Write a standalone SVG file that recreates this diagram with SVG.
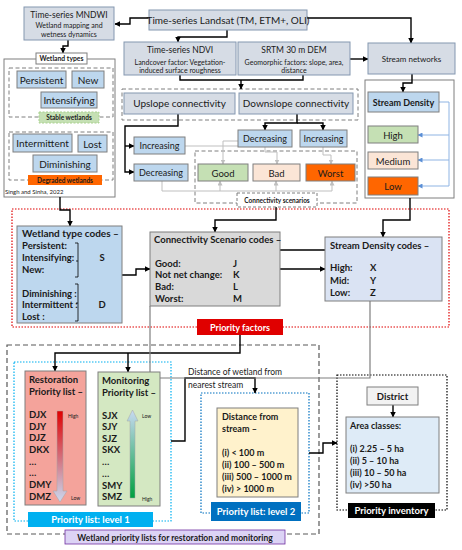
<svg xmlns="http://www.w3.org/2000/svg" width="462" height="550" viewBox="0 0 462 550">
<defs>
<style>
text{font-family:Lato,"Liberation Sans",sans-serif;fill:#1a1a1a}
.bd{font-weight:bold}
.m{text-anchor:middle}
.w{fill:#fff}
.g{fill:#d6dce5;stroke:#8497b0;stroke-width:1}
.lb{fill:#bdd7ee;stroke:#7f7f7f;stroke-width:1}
.bx{stroke:#7f7f7f;stroke-width:1}
.dash{fill:none;stroke:#7f7f7f;stroke-width:1;stroke-dasharray:4 2.5}
.c{fill:none;stroke:#000;stroke-width:1.4;marker-end:url(#ah)}
.cn{fill:none;stroke:#000;stroke-width:1.4}
.gr{fill:none;stroke:#bfbfbf;stroke-width:1}
.gra{fill:none;stroke:#bfbfbf;stroke-width:1;marker-end:url(#ahg)}
.bl{fill:none;stroke:#8fb4e3;stroke-width:1;marker-end:url(#ahb)}
.dg{fill:none;stroke:#7f7f7f;stroke-width:1.2}
</style>
<marker id="ah" viewBox="0 0 10 10" refX="9" refY="5" markerWidth="4" markerHeight="4" orient="auto"><path d="M0,0L10,5L0,10z" fill="#000"/></marker>
<marker id="ahg" viewBox="0 0 10 10" refX="9" refY="5" markerWidth="5" markerHeight="5" orient="auto"><path d="M0,0L10,5L0,10z" fill="#bfbfbf"/></marker>
<marker id="ahb" viewBox="0 0 10 10" refX="9" refY="5" markerWidth="5" markerHeight="5" orient="auto"><path d="M0,0L10,5L0,10z" fill="#5b8fd6"/></marker>
<linearGradient id="gRed" x1="0" y1="0" x2="0" y2="1"><stop offset="0" stop-color="#e00000"/><stop offset="1" stop-color="#c9daf2"/></linearGradient>
<linearGradient id="gGrn" x1="0" y1="0" x2="0" y2="1"><stop offset="0" stop-color="#c9daf2"/><stop offset="1" stop-color="#00a040"/></linearGradient>
</defs>

<!-- containers -->
<g id="containers">
<rect x="4" y="59" width="111" height="138" fill="#fff" stroke="#7f7f7f"/>
<rect x="9" y="68" width="104" height="49" class="dash"/>
<rect x="9" y="132" width="104" height="48" class="dash"/>
<rect x="122" y="89" width="236" height="31" class="dash"/>
<rect x="195" y="151" width="162" height="52" class="dash"/>
<rect x="365" y="80" width="89" height="118" fill="#fff" stroke="#7f7f7f"/>
<rect x="12" y="209" width="437" height="118" fill="none" stroke="#e00000" stroke-width="1.2" stroke-dasharray="1.5 1.5"/>
<rect x="7" y="345" width="312" height="189" fill="none" stroke="#595959" stroke-width="1.2" stroke-dasharray="5 3"/>
<rect x="14" y="362" width="157" height="159" fill="none" stroke="#00b0f0" stroke-width="1.2" stroke-dasharray="1.5 1.5"/>
<rect x="201" y="393" width="108" height="120" fill="none" stroke="#0070c0" stroke-width="1.2" stroke-dasharray="1.5 1.5"/>
<rect x="337" y="375" width="110" height="135" fill="none" stroke="#000" stroke-width="1.2" stroke-dasharray="1.5 1.5"/>
</g>

<!-- connectors -->
<g id="connectors">
<path class="c" d="M149,18H130V24H115"/>
<path class="c" d="M307,18H411V43"/>
<path class="c" d="M227,30V37H178V42"/>
<path class="cn" d="M180,75V80H303V75"/>
<path class="c" d="M241,80V89"/>
<path class="c" d="M350,59H368"/>
<path class="c" d="M68,40V46H63V53"/>
<path class="c" d="M178,114V126H125V172H134"/>
<path class="c" d="M125,146H134"/>
<path class="c" d="M297,114V123H265V130"/>
<path class="c" d="M297,123H323V130"/>
<path class="gr" d="M185,146H238"/>
<path class="gra" d="M238,141H223V164"/>
<path class="gra" d="M265,147V152H277V164"/>
<path class="gra" d="M323,147V155H331V164"/>
<path class="gr" d="M162,181V191H332"/>
<path class="gra" d="M220,191V181"/>
<path class="gra" d="M276,191V181"/>
<path class="gra" d="M332,191V181"/>
<path class="c" d="M412,74V83H403V92"/>
<path class="bl" d="M439,102H449V186H418"/>
<path class="bl" d="M449,135H418"/>
<path class="bl" d="M449,160H418"/>
<path class="c" d="M410,198V220H383V237"/>
<path class="c" d="M60,197V210H70V226"/>
<path class="c" d="M122,275H136V269H150"/>
<path class="c" d="M276,207V220H215V232"/>
<path class="c" d="M280,269H325"/>
<path class="cn" d="M280,250H325"/>
<path class="c" d="M240,335V353H55V371"/>
<path class="c" d="M128,353V372"/>
<path class="dg" d="M150,306V372"/>
<path class="c" d="M171,441H185V378H255V393"/>
<path class="dg" d="M370,301V378H160"/>
<path class="c" d="M309,453H323V443H337"/>
<path class="c" d="M393,405V417"/>
</g>

<g id="mndwi">
<rect x="24" y="7" width="90" height="33" class="g"/>
<text x="69" y="18" class="m" font-size="8.5">Time-series MNDWI</text>
<text x="69" y="27.5" class="m" font-size="7">Wetland mapping and</text>
<text x="69" y="36.5" class="m" font-size="7">wetness dynamics</text>
</g>
<g id="landsat">
<rect x="149" y="10" width="158" height="20" class="g"/>
<text x="228" y="24" class="m" font-size="10">Time-series Landsat (TM, ETM+, OLI)</text>
</g>
<g id="ndvi">
<rect x="124" y="42" width="112" height="33" class="g"/>
<text x="180" y="53" class="m" font-size="8.5">Time-series NDVI</text>
<text x="180" y="64.5" class="m" font-size="7">Landcover factor: Vegetation-</text>
<text x="180" y="72.5" class="m" font-size="7">induced surface roughness</text>
</g>
<g id="srtm">
<rect x="238" y="42" width="112" height="33" class="g"/>
<text x="294" y="53" class="m" font-size="8.5">SRTM 30 m DEM</text>
<text x="294" y="64.5" class="m" font-size="7">Geomorphic factors: slope, area,</text>
<text x="294" y="72.5" class="m" font-size="7">distance</text>
</g>
<g id="streamnet">
<rect x="368" y="43" width="87" height="31" class="g"/>
<text x="411.5" y="62" class="m" font-size="8">Stream networks</text>
</g>
<g id="upslope">
<rect x="124" y="93" width="111" height="21" class="g"/>
<text x="179.5" y="107" class="m" font-size="10">Upslope connectivity</text>
</g>
<g id="downslope">
<rect x="239" y="93" width="114" height="21" class="g"/>
<text x="296" y="107" class="m" font-size="10">Downslope connectivity</text>
</g>
<g id="inc-up">
<rect x="134" y="137" width="51" height="17" class="lb"/>
<text x="159.5" y="149" class="m" font-size="9">Increasing</text>
</g>
<g id="dec-up">
<rect x="134" y="164" width="54" height="17" class="lb"/>
<text x="161" y="176" class="m" font-size="9">Decreasing</text>
</g>
<g id="dec-down">
<rect x="238" y="130" width="54" height="17" class="lb"/>
<text x="265" y="142" class="m" font-size="9">Decreasing</text>
</g>
<g id="inc-down">
<rect x="300" y="130" width="47" height="17" class="lb"/>
<text x="323.5" y="142" class="m" font-size="9">Increasing</text>
</g>
<g id="good">
<rect x="198" y="164" width="50" height="17" fill="#c5e0b4" class="bx"/>
<text x="223" y="176.5" class="m" font-size="9.5">Good</text>
</g>
<g id="bad">
<rect x="253" y="164" width="47" height="17" fill="#fbe5d6" class="bx"/>
<text x="276.5" y="176.5" class="m" font-size="9.5">Bad</text>
</g>
<g id="worst">
<rect x="306" y="164" width="49" height="17" fill="#ff6600" class="bx"/>
<text x="330.5" y="176.5" class="m" font-size="9.5">Worst</text>
</g>
<g id="scen-label">
<rect x="237" y="193" width="80" height="14" fill="#fff" stroke="#7f7f7f" stroke-dasharray="3 2"/>
<text x="277" y="202.5" class="m bd" font-size="6.5">Connectivity scenarios</text>
</g>

<g id="wetland-types">
<rect x="36" y="53" width="51" height="11" fill="#fff" stroke="#7f7f7f"/>
<text x="61.5" y="61.2" class="m bd" font-size="6.8">Wetland types</text>
</g>
<g id="persistent">
<rect x="17" y="71" width="49" height="17" class="lb"/>
<text x="41.5" y="83.5" class="m" font-size="10">Persistent</text>
</g>
<g id="new">
<rect x="72" y="71" width="32" height="17" class="lb"/>
<text x="88" y="83.5" class="m" font-size="10">New</text>
</g>
<g id="intensifying">
<rect x="41" y="92" width="56" height="16" class="lb"/>
<text x="69" y="104" class="m" font-size="10">Intensifying</text>
</g>
<g id="stable">
<rect x="39" y="112" width="60" height="11" fill="#c5e0b4" stroke="#a9d18e" stroke-dasharray="2 1.5"/>
<text x="69" y="120.3" class="m bd" font-size="6.5">Stable wetlands</text>
</g>
<g id="intermittent">
<rect x="13" y="134" width="59" height="18" class="lb"/>
<text x="42.5" y="147" class="m" font-size="10">Intermittent</text>
</g>
<g id="lost">
<rect x="78" y="135" width="29" height="17" class="lb"/>
<text x="92.5" y="147.5" class="m" font-size="10">Lost</text>
</g>
<g id="diminishing">
<rect x="33" y="155" width="64" height="17" class="lb"/>
<text x="65" y="167.5" class="m" font-size="10">Diminishing</text>
</g>
<g id="degraded">
<rect x="28" y="175" width="74" height="10" fill="#ff6600"/>
<text x="65" y="182.5" class="m bd" font-size="6.5">Degraded wetlands</text>
</g>
<text x="5" y="194" font-size="6">Singh and Sinha, 2022</text>

<g id="streamdensity">
<rect x="368" y="92" width="71" height="20" class="lb"/>
<text x="403.5" y="105.5" class="m bd" font-size="9">Stream Density</text>
</g>
<g id="sd-high">
<rect x="368" y="126" width="50" height="17" fill="#c5e0b4" class="bx"/>
<text x="393" y="138.5" class="m" font-size="9.5">High</text>
</g>
<g id="sd-medium">
<rect x="368" y="152" width="50" height="17" fill="#fbe5d6" class="bx"/>
<text x="393" y="164.5" class="m" font-size="9.5">Medium</text>
</g>
<g id="sd-low">
<rect x="368" y="177" width="50" height="18" fill="#ff6600" class="bx"/>
<text x="393" y="190" class="m" font-size="9.5">Low</text>
</g>

<g id="wt-codes">
<rect x="17" y="226" width="105" height="97" class="lb"/>
<text x="22" y="237" class="bd" font-size="10">Wetland type codes –</text>
<text x="22" y="248.5" class="bd" font-size="9.5">Persistent:</text>
<text x="22" y="261" class="bd" font-size="9.5">Intensifying:</text>
<text x="22" y="272.5" class="bd" font-size="9.5">New:</text>
<text x="22" y="296.5" class="bd" font-size="9.5">Diminishing :</text>
<text x="22" y="308" class="bd" font-size="9.5">Intermittent :</text>
<text x="22" y="319.5" class="bd" font-size="9.5">Lost :</text>
<text x="102" y="261" class="m bd" font-size="9.5">S</text>
<text x="102" y="308" class="m bd" font-size="9.5">D</text>
<path d="M75,243H78V277H75M78,261H76M75,284H78V321H75M78,303H76" fill="none" stroke="#000" stroke-width="0.8"/>
</g>

<g id="cs-codes">
<rect x="150" y="232" width="130" height="74" fill="#d9d9d9" class="bx"/>
<text x="154" y="242.5" class="bd" font-size="9.5">Connectivity Scenario codes –</text>
<text x="155" y="266.5" class="bd" font-size="9.5">Good:</text>
<text x="155" y="278" class="bd" font-size="9.5">Not net change:</text>
<text x="155" y="289.5" class="bd" font-size="9.5">Bad:</text>
<text x="155" y="301.5" class="bd" font-size="9.5">Worst:</text>
<text x="233" y="266.5" class="bd" font-size="9.5">J</text>
<text x="233" y="278" class="bd" font-size="9.5">K</text>
<text x="233" y="289.5" class="bd" font-size="9.5">L</text>
<text x="233" y="301.5" class="bd" font-size="9.5">M</text>
</g>

<g id="sd-codes">
<rect x="325" y="237" width="117" height="64" fill="#dae3f3" class="bx"/>
<text x="330" y="248.5" class="bd" font-size="9.5">Stream Density codes –</text>
<text x="330" y="271" class="bd" font-size="9.5">High:</text>
<text x="330" y="284" class="bd" font-size="9.5">Mid:</text>
<text x="330" y="296" class="bd" font-size="9.5">Low:</text>
<text x="370" y="271" class="bd" font-size="9.5">X</text>
<text x="370" y="284" class="bd" font-size="9.5">Y</text>
<text x="370" y="296" class="bd" font-size="9.5">Z</text>
</g>

<g id="priority-factors">
<rect x="197" y="319" width="86" height="16" fill="#e00000"/>
<text x="240" y="330.5" class="m bd w" font-size="9">Priority factors</text>
</g>

<g id="restoration">
<rect x="25" y="371" width="61" height="134" fill="#f4a39b" class="bx"/>
<text x="29" y="382.5" class="bd" font-size="9.5">Restoration</text>
<text x="29" y="394.5" class="bd" font-size="9.5">Priority list –</text>
<text x="29" y="418" class="bd" font-size="9.5">DJX</text>
<text x="29" y="429.7" class="bd" font-size="9.5">DJY</text>
<text x="29" y="441.3" class="bd" font-size="9.5">DJZ</text>
<text x="29" y="453" class="bd" font-size="9.5">DKX</text>
<text x="29" y="464.6" class="bd" font-size="9.5">…</text>
<text x="29" y="476.2" class="bd" font-size="9.5">…</text>
<text x="29" y="488" class="bd" font-size="9.5">DMY</text>
<text x="29" y="499.5" class="bd" font-size="9.5">DMZ</text>
<path d="M57,411H63V491H67L60,502L53,491H57Z" fill="url(#gRed)" stroke="#a6a6a6" stroke-width="0.5"/>
<text x="68" y="418" font-size="5">High</text>
<text x="71" y="500" font-size="5">Low</text>
</g>

<g id="monitoring">
<rect x="98" y="372" width="62" height="134" fill="#d4e8c2" class="bx"/>
<text x="102" y="383.5" class="bd" font-size="9.5">Monitoring</text>
<text x="102" y="395.5" class="bd" font-size="9.5">Priority list –</text>
<text x="102" y="418.5" class="bd" font-size="9.5">SJX</text>
<text x="102" y="430" class="bd" font-size="9.5">SJY</text>
<text x="102" y="441.5" class="bd" font-size="9.5">SJZ</text>
<text x="102" y="453" class="bd" font-size="9.5">SKX</text>
<text x="102" y="465" class="bd" font-size="9.5">…</text>
<text x="102" y="476.5" class="bd" font-size="9.5">…</text>
<text x="102" y="488.5" class="bd" font-size="9.5">SMY</text>
<text x="102" y="500" class="bd" font-size="9.5">SMZ</text>
<path d="M132.5,410L138,421H135V498H130V421H127Z" fill="url(#gGrn)" stroke="#a6a6a6" stroke-width="0.5"/>
<text x="142" y="418" font-size="5">Low</text>
<text x="142" y="501" font-size="5">High</text>
</g>

<g id="level1">
<rect x="28" y="512" width="125" height="15" fill="#00b0f0"/>
<text x="90.5" y="523" class="m bd w" font-size="9.5">Priority list: level 1</text>
</g>

<text x="188" y="375" font-size="8.5">Distance of wetland from</text>
<text x="188" y="387.5" font-size="8.5">nearest stream</text>

<g id="distance">
<rect x="217" y="408" width="81" height="89" fill="#fff2cc" class="bx"/>
<text x="222" y="420" class="bd" font-size="9">Distance from</text>
<text x="222" y="432" class="bd" font-size="9">stream –</text>
<text x="222" y="456" class="bd" font-size="9">(i) &lt; 100 m</text>
<text x="222" y="468" class="bd" font-size="9">(ii) 100 – 500 m</text>
<text x="222" y="480" class="bd" font-size="9">(iii) 500 – 1000 m</text>
<text x="222" y="491.5" class="bd" font-size="9">(iv) &gt; 1000 m</text>
</g>
<g id="level2">
<rect x="211" y="502" width="90" height="19" fill="#0070c0"/>
<text x="256" y="515" class="m bd w" font-size="9.5">Priority list: level 2</text>
</g>

<g id="district">
<rect x="367" y="387" width="51" height="18" fill="#f2f2f2" class="bx"/>
<text x="392.5" y="399.5" class="m bd" font-size="9.5">District</text>
</g>
<g id="area">
<rect x="346" y="417" width="93" height="76" fill="#deebf7" class="bx"/>
<text x="350" y="429" class="bd" font-size="9">Area classes:</text>
<text x="350" y="452" class="bd" font-size="9">(i) 2.25 – 5 ha</text>
<text x="350" y="464" class="bd" font-size="9">(ii) 5 – 10 ha</text>
<text x="350" y="476" class="bd" font-size="9">(iii) 10 – 50 ha</text>
<text x="350" y="488" class="bd" font-size="9">(iv) &gt;50 ha</text>
</g>
<g id="inventory">
<rect x="348" y="503" width="87" height="15" fill="#000"/>
<text x="391.5" y="514" class="m bd w" font-size="9.5">Priority inventory</text>
</g>

<g id="wpl-label">
<rect x="65" y="530" width="220" height="14" fill="#dcd3f5" stroke="#7030a0" stroke-width="0.8"/>
<text x="175" y="540.5" class="m bd" font-size="8.5">Wetland priority lists for restoration and monitoring</text>
</g>
</svg>
